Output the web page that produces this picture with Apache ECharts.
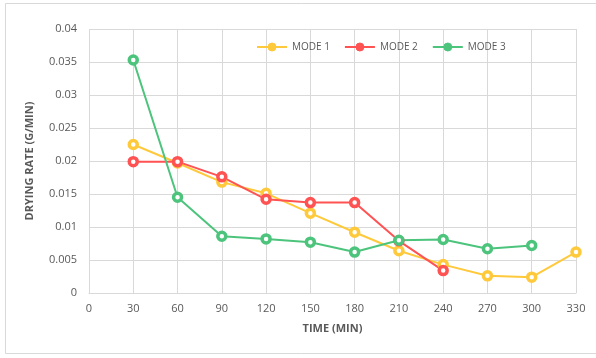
<!DOCTYPE html>
<html>
<head>
<meta charset="utf-8">
<style>
  html, body { margin: 0; padding: 0; background: #fff; }
  #chart { width: 596px; height: 358px; }
</style>
<script src="https://cdn.jsdelivr.net/npm/echarts@6/dist/echarts.min.js"></script>
</head>
<body>
<div id="chart"></div>
<script>
// Drying time in minutes
const times = [30, 60, 90, 120, 150, 180, 210, 240, 270, 300, 330];

// Drying rate (g/min) for each mode
const mode1 = [0.0225, 0.0197, 0.0168, 0.0151, 0.0121, 0.0092, 0.0064, 0.0043, 0.0026, 0.0024, 0.0062];
const mode2 = [0.0199, 0.0199, 0.0176, 0.0142, 0.0137, 0.0137, 0.0079, 0.0034];
const mode3 = [0.0353, 0.0145, 0.0086, 0.0082, 0.0077, 0.0062, 0.0080, 0.0081, 0.0067, 0.0072];

const seriesNames = ['MODE 1', 'MODE 2', 'MODE 3'];
const seriesColors = ['#FFC93C', '#FF5252', '#4CC47C'];

function pairs(values) {
  return values.map((v, i) => [times[i], v]);
}

function lineSeries(name, values, color) {
  return {
    name: name,
    type: 'line',
    color: color,
    data: pairs(values),
    symbol: 'circle',
    symbolSize: 8,
    showAllSymbol: true,
    lineStyle: { color: color, width: 2 },
    itemStyle: { color: '#ffffff', borderColor: color, borderWidth: 3.5 },
    emphasis: { disabled: true }
  };
}

const chart = echarts.init(document.getElementById('chart'), null, { renderer: 'canvas' });

const font = 'Open Sans, Liberation Sans, sans-serif';
const labelStyle = { color: '#595959', fontSize: 11, fontFamily: font };

chart.setOption({
  animation: false,
  backgroundColor: '#ffffff',
  graphic: [{
    type: 'rect',
    shape: { x: 5.5, y: 3.5, width: 620, height: 350 },
    style: { fill: 'none', stroke: '#d9d9d9', lineWidth: 1 },
    silent: true,
    z: -1
  }],
  legend: {
    left: 251,
    top: 37,
    itemWidth: 30,
    itemHeight: 10,
    itemGap: 14,
    textStyle: { color: '#595959', fontSize: 10, fontFamily: font },
    data: seriesNames.map((n, i) => ({
      name: n,
      itemStyle: { color: seriesColors[i], borderColor: seriesColors[i], borderWidth: 1 }
    }))
  },
  grid: { left: 89, right: 20, top: 29, bottom: 65, containLabel: false },
  xAxis: {
    type: 'value',
    min: 0,
    max: 330,
    interval: 30,
    name: 'TIME (MIN)',
    nameLocation: 'middle',
    nameGap: 30,
    nameTextStyle: { color: '#595959', fontSize: 11, fontWeight: 'bold', fontFamily: font },
    axisLine: { show: true, lineStyle: { color: '#d9d9d9' } },
    axisTick: { show: false },
    axisLabel: Object.assign({ margin: 10 }, labelStyle),
    splitLine: { show: true, lineStyle: { color: '#d9d9d9' } }
  },
  yAxis: {
    type: 'value',
    min: 0,
    max: 0.04,
    interval: 0.005,
    name: 'DRYING RATE (G/MIN)',
    nameLocation: 'middle',
    nameGap: 54,
    nameTextStyle: { color: '#595959', fontSize: 11, fontWeight: 'bold', fontFamily: font },
    axisLine: { show: false },
    axisTick: { show: false },
    axisLabel: Object.assign({ margin: 12, formatter: v => String(parseFloat(v.toFixed(3))) }, labelStyle),
    splitLine: { show: true, lineStyle: { color: '#d9d9d9' } }
  },
  series: [
    lineSeries(seriesNames[0], mode1, seriesColors[0]),
    lineSeries(seriesNames[1], mode2, seriesColors[1]),
    lineSeries(seriesNames[2], mode3, seriesColors[2])
  ]
});
</script>
</body>
</html>
